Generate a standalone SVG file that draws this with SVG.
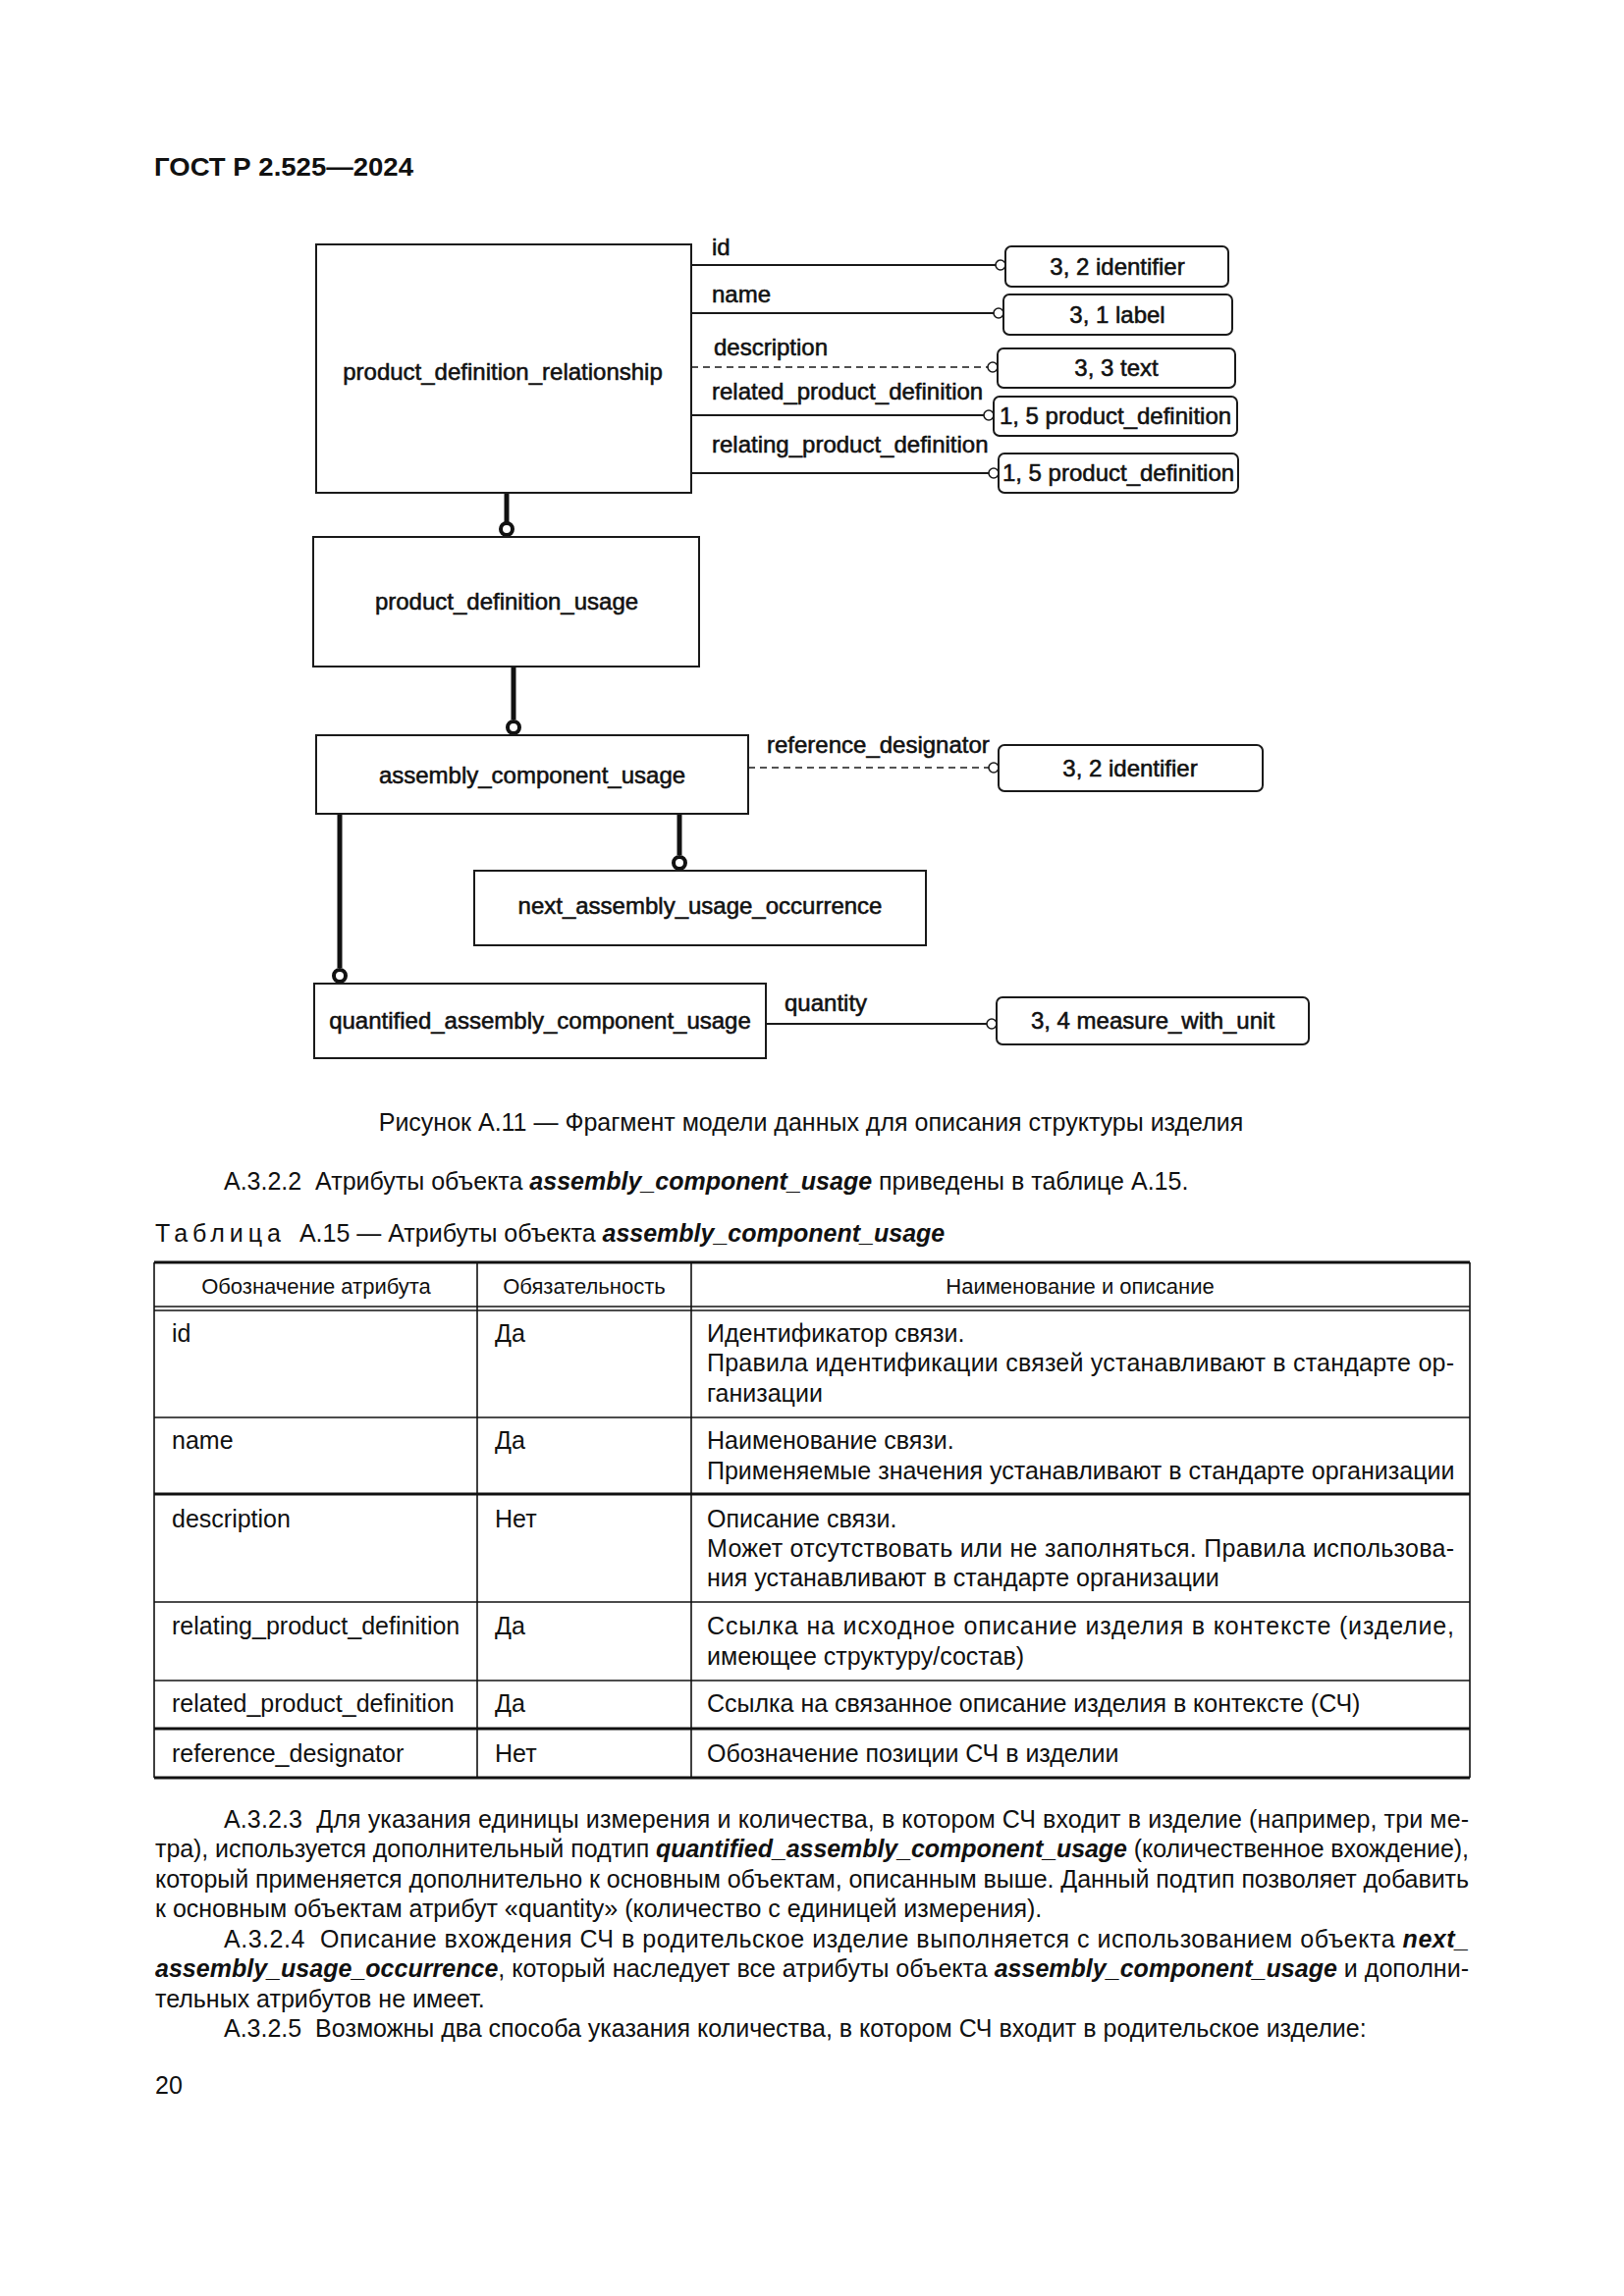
<svg xmlns="http://www.w3.org/2000/svg" width="1654" height="2339" viewBox="0 0 1654 2339">
<style>
text{font-family:"Liberation Sans",Arial,sans-serif;fill:#111}
.dg{font-size:24px;stroke:#111;stroke-width:0.55}
.mid{text-anchor:middle}
.ent{fill:#fff;stroke:#1a1a1a;stroke-width:2}
.att{fill:#fff;stroke:#1a1a1a;stroke-width:2}
.ln{stroke:#1a1a1a;stroke-width:2;fill:none}
.dash{stroke:#1a1a1a;stroke-width:1.6;fill:none;stroke-dasharray:7 5}
.oc{fill:#fff;stroke:#1a1a1a;stroke-width:1.6}
.thick{stroke:#111;stroke-width:5;fill:none}
.tc{fill:#fff;stroke:#111;stroke-width:4}
.body{font-size:25px}
.th{font-size:22px}
.bi{font-weight:bold;font-style:italic}
.tl{stroke:#111;stroke-width:1.6}
.tlb{stroke:#111;stroke-width:3}
</style>
<rect width="1654" height="2339" fill="#fff"/>
<text x="157" y="179" font-size="26" font-weight="bold" textLength="264" lengthAdjust="spacingAndGlyphs">ГОСТ Р 2.525—2024</text>

<g id="connectors">
<line class="ln" x1="704" y1="270" x2="1014" y2="270"/>
<line class="ln" x1="704" y1="319" x2="1012" y2="319"/>
<line class="dash" x1="704" y1="374" x2="1006" y2="374"/>
<line class="ln" x1="704" y1="423" x2="1002" y2="423"/>
<line class="ln" x1="704" y1="482" x2="1007" y2="482"/>
<line class="dash" x1="762" y1="782" x2="1007" y2="782"/>
<line class="ln" x1="780" y1="1043" x2="1005" y2="1043"/>
<circle class="oc" cx="1019" cy="270" r="5"/>
<circle class="oc" cx="1017" cy="319" r="5"/>
<circle class="oc" cx="1011" cy="374" r="5"/>
<circle class="oc" cx="1007" cy="423" r="5"/>
<circle class="oc" cx="1012" cy="482" r="5"/>
<circle class="oc" cx="1012" cy="782" r="5"/>
<circle class="oc" cx="1010" cy="1043" r="5"/>
<line class="thick" x1="516" y1="502" x2="516" y2="532"/>
<circle class="tc" cx="516" cy="539" r="6"/>
<line class="thick" x1="523" y1="679" x2="523" y2="733"/>
<circle class="tc" cx="523" cy="741" r="6"/>
<line class="thick" x1="692" y1="829" x2="692" y2="871"/>
<circle class="tc" cx="692" cy="879" r="6"/>
<line class="thick" x1="346" y1="829" x2="346" y2="986"/>
<circle class="tc" cx="346" cy="994" r="6"/>
<text class="dg" x="725" y="260">id</text>
<text class="dg" x="725" y="308">name</text>
<text class="dg" x="727" y="362">description</text>
<text class="dg" x="725" y="407">related_product_definition</text>
<text class="dg" x="725" y="461">relating_product_definition</text>
<text class="dg" x="781" y="767">reference_designator</text>
<text class="dg" x="799" y="1030">quantity</text>
</g>

<g id="pdr">
<rect class="ent" x="322" y="249" width="382" height="253"/>
<text class="dg mid" x="512" y="387">product_definition_relationship</text>
</g>
<g id="pdu">
<rect class="ent" x="319" y="547" width="393" height="132"/>
<text class="dg mid" x="516" y="621">product_definition_usage</text>
</g>
<g id="acu">
<rect class="ent" x="322" y="749" width="440" height="80"/>
<text class="dg mid" x="542" y="798">assembly_component_usage</text>
</g>
<g id="nauo">
<rect class="ent" x="483" y="887" width="460" height="76"/>
<text class="dg mid" x="713" y="931">next_assembly_usage_occurrence</text>
</g>
<g id="qacu">
<rect class="ent" x="320" y="1002" width="460" height="76"/>
<text class="dg mid" x="550" y="1048">quantified_assembly_component_usage</text>
</g>
<g id="a1">
<rect class="att" x="1024" y="251" width="227" height="41" rx="6"/>
<text class="dg mid" x="1138" y="280">3, 2 identifier</text>
</g>
<g id="a2">
<rect class="att" x="1022" y="300" width="233" height="41" rx="6"/>
<text class="dg mid" x="1138" y="329">3, 1 label</text>
</g>
<g id="a3">
<rect class="att" x="1016" y="355" width="242" height="40" rx="6"/>
<text class="dg mid" x="1137" y="383">3, 3 text</text>
</g>
<g id="a4">
<rect class="att" x="1012" y="404" width="248" height="40" rx="6"/>
<text class="dg mid" x="1136" y="432">1, 5 product_definition</text>
</g>
<g id="a5">
<rect class="att" x="1017" y="462" width="244" height="40" rx="6"/>
<text class="dg mid" x="1139" y="490">1, 5 product_definition</text>
</g>
<g id="a6">
<rect class="att" x="1017" y="759" width="269" height="47" rx="6"/>
<text class="dg mid" x="1151" y="791">3, 2 identifier</text>
</g>
<g id="a7">
<rect class="att" x="1015" y="1016" width="318" height="48" rx="6"/>
<text class="dg mid" x="1174" y="1048">3, 4 measure_with_unit</text>
</g>

<text class="body mid" x="826" y="1152">Рисунок А.11 — Фрагмент модели данных для описания структуры изделия</text>
<text class="body" x="228" y="1212">А.3.2.2&#160; Атрибуты объекта <tspan class="bi">assembly_component_usage</tspan> приведены в таблице А.15.</text>
<text class="body" x="158" y="1265"><tspan letter-spacing="5">Таблица</tspan>&#160; А.15 — Атрибуты объекта <tspan class="bi">assembly_component_usage</tspan></text>

<g id="table">
<line class="tlb" x1="157" y1="1286" x2="1497" y2="1286"/>
<line class="tl" x1="157" y1="1331" x2="1497" y2="1331"/>
<line class="tl" x1="157" y1="1335" x2="1497" y2="1335"/>
<line class="tl" x1="157" y1="1444" x2="1497" y2="1444"/>
<line class="tlb" x1="157" y1="1522" x2="1497" y2="1522"/>
<line class="tl" x1="157" y1="1632" x2="1497" y2="1632"/>
<line class="tl" x1="157" y1="1712" x2="1497" y2="1712"/>
<line class="tlb" x1="157" y1="1761" x2="1497" y2="1761"/>
<line class="tlb" x1="157" y1="1811" x2="1497" y2="1811"/>
<line class="tl" x1="157" y1="1286" x2="157" y2="1811"/>
<line class="tl" x1="486" y1="1286" x2="486" y2="1811"/>
<line class="tl" x1="704" y1="1286" x2="704" y2="1811"/>
<line class="tl" x1="1497" y1="1286" x2="1497" y2="1811"/>
<text class="th mid" x="322" y="1318">Обозначение атрибута</text>
<text class="th mid" x="595" y="1318">Обязательность</text>
<text class="th mid" x="1100" y="1318">Наименование и описание</text>
<text class="body" x="175" y="1367">id</text>
<text class="body" x="175" y="1476">name</text>
<text class="body" x="175" y="1556">description</text>
<text class="body" x="175" y="1665">relating_product_definition</text>
<text class="body" x="175" y="1744">related_product_definition</text>
<text class="body" x="175" y="1795">reference_designator</text>
<text class="body" x="504" y="1367">Да</text>
<text class="body" x="504" y="1476">Да</text>
<text class="body" x="504" y="1556">Нет</text>
<text class="body" x="504" y="1665">Да</text>
<text class="body" x="504" y="1744">Да</text>
<text class="body" x="504" y="1795">Нет</text>
<text class="body" x="720" y="1367">Идентификатор связи.</text>
<text class="body" x="720" y="1397" textLength="761" lengthAdjust="spacing">Правила идентификации связей устанавливают в стандарте ор-</text>
<text class="body" x="720" y="1428">ганизации</text>
<text class="body" x="720" y="1476">Наименование связи.</text>
<text class="body" x="720" y="1507">Применяемые значения устанавливают в стандарте организации</text>
<text class="body" x="720" y="1556">Описание связи.</text>
<text class="body" x="720" y="1586" textLength="761" lengthAdjust="spacing">Может отсутствовать или не заполняться. Правила использова-</text>
<text class="body" x="720" y="1616">ния устанавливают в стандарте организации</text>
<text class="body" x="720" y="1665" textLength="761" lengthAdjust="spacing">Ссылка на исходное описание изделия в контексте (изделие,</text>
<text class="body" x="720" y="1696">имеющее структуру/состав)</text>
<text class="body" x="720" y="1744">Ссылка на связанное описание изделия в контексте (СЧ)</text>
<text class="body" x="720" y="1795">Обозначение позиции СЧ в изделии</text>
</g>

<text class="body" x="228" y="1862" textLength="1268" lengthAdjust="spacing">А.3.2.3&#160; Для указания единицы измерения и количества, в котором СЧ входит в изделие (например, три ме-</text>
<text class="body" x="158" y="1892" textLength="1338" lengthAdjust="spacing">тра), используется дополнительный подтип <tspan class="bi">quantified_assembly_component_usage</tspan> (количественное вхождение),</text>
<text class="body" x="158" y="1923" textLength="1338" lengthAdjust="spacing">который применяется дополнительно к основным объектам, описанным выше. Данный подтип позволяет добавить</text>
<text class="body" x="158" y="1953">к основным объектам атрибут «quantity» (количество с единицей измерения).</text>
<text class="body" x="228" y="1984" textLength="1268" lengthAdjust="spacing">А.3.2.4&#160; Описание вхождения СЧ в родительское изделие выполняется с использованием объекта <tspan class="bi">next_</tspan></text>
<text class="body" x="158" y="2014" textLength="1338" lengthAdjust="spacing"><tspan class="bi">assembly_usage_occurrence</tspan>, который наследует все атрибуты объекта <tspan class="bi">assembly_component_usage</tspan> и дополни-</text>
<text class="body" x="158" y="2045">тельных атрибутов не имеет.</text>
<text class="body" x="228" y="2075">А.3.2.5&#160; Возможны два способа указания количества, в котором СЧ входит в родительское изделие:</text>
<text class="body" x="158" y="2133">20</text>
</svg>
